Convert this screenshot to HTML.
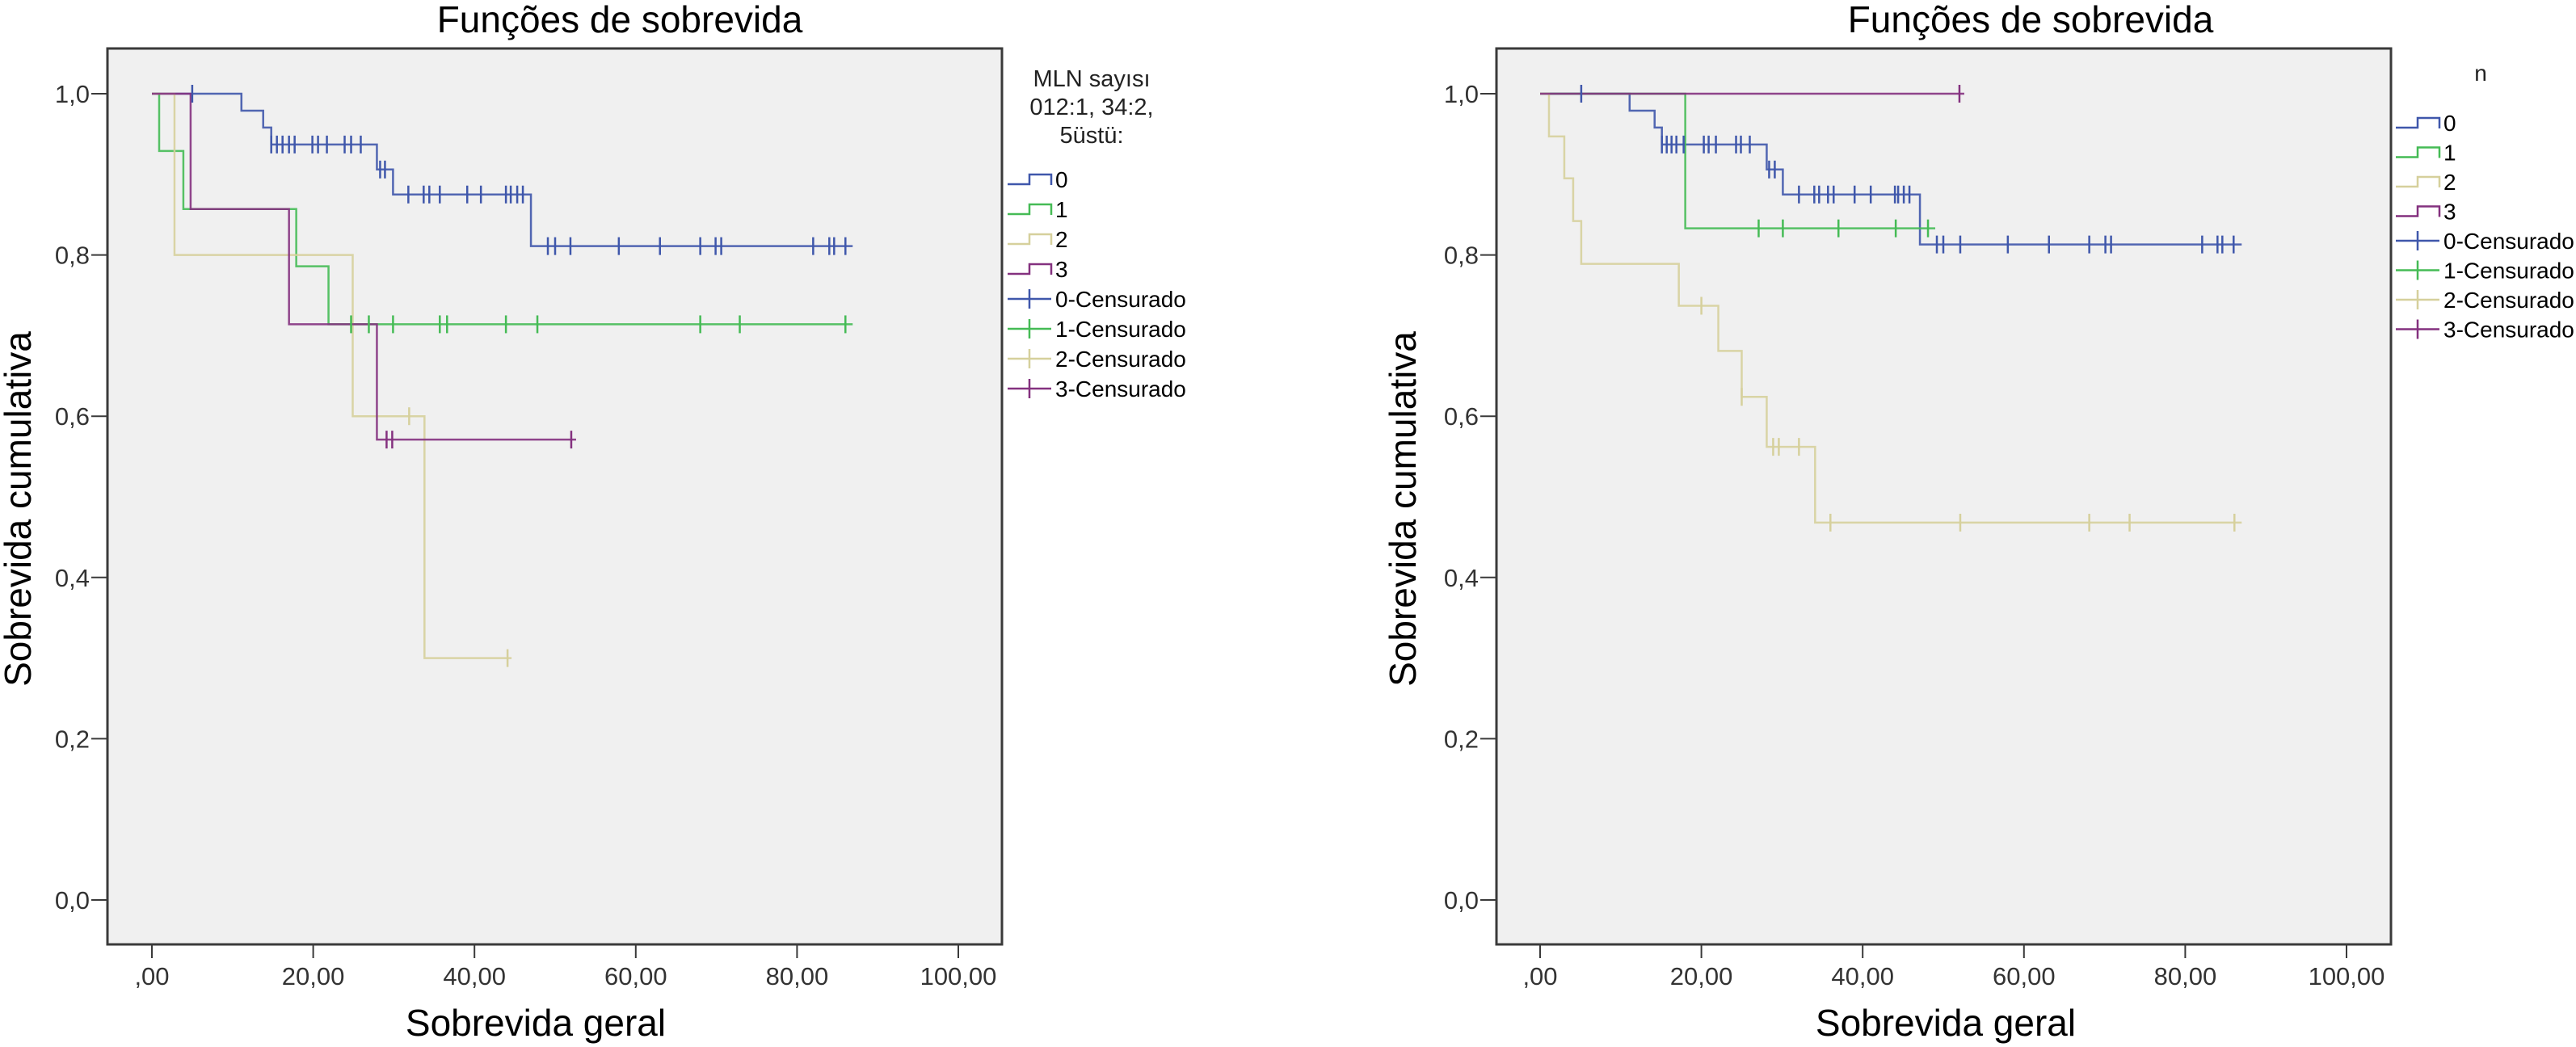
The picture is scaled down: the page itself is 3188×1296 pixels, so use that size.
<!DOCTYPE html>
<html><head><meta charset="utf-8"><style>
html,body{margin:0;padding:0;background:#fff;}
svg{display:block;font-family:"Liberation Sans",sans-serif;}
</style></head><body>
<svg id="root" width="3188" height="1296" viewBox="0 0 3188 1296" xmlns="http://www.w3.org/2000/svg"></svg>
<script>
// ---------- data ----------
const xTickValues = [0, 20, 40, 60, 80, 100];
const xTickLabels = [",00", "20,00", "40,00", "60,00", "80,00", "100,00"];
const yTickValues = [0, 0.2, 0.4, 0.6, 0.8, 1.0];
const yTickLabels = ["0,0", "0,2", "0,4", "0,6", "0,8", "1,0"];
const groupNames = ["0", "1", "2", "3"];

// Left chart
const L0_stepT = [11.1, 13.8, 14.8, 27.9, 29.9, 47.0];
const L0_stepS = [0.979, 0.958, 0.937, 0.906, 0.875, 0.811];
const L0_censT = [5.0, 14.8, 15.5, 16.2, 17.0, 17.7, 19.9, 20.6, 21.7, 23.9, 24.7, 25.9, 28.3, 28.9, 31.8, 33.7, 34.4, 35.7, 39.1, 40.8, 43.9, 44.5, 45.3, 46.0, 49.1, 50.0, 51.9, 57.9, 63.0, 68.0, 69.9, 70.6, 82.0, 84.0, 84.6, 86.0];
const L0_censS = [1.0, 0.937, 0.937, 0.937, 0.937, 0.937, 0.937, 0.937, 0.937, 0.937, 0.937, 0.937, 0.906, 0.906, 0.875, 0.875, 0.875, 0.875, 0.875, 0.875, 0.875, 0.875, 0.875, 0.875, 0.811, 0.811, 0.811, 0.811, 0.811, 0.811, 0.811, 0.811, 0.811, 0.811, 0.811, 0.811];
const L0_end = 86.9;
const L1_stepT = [0.9, 3.9, 17.9, 21.9];
const L1_stepS = [0.929, 0.857, 0.786, 0.714];
const L1_censT = [24.7, 26.9, 29.9, 35.7, 36.6, 43.9, 47.8, 68.0, 72.9, 86.0];
const L1_censS = [0.714, 0.714, 0.714, 0.714, 0.714, 0.714, 0.714, 0.714, 0.714, 0.714];
const L1_end = 86.9;
const L2_stepT = [2.8, 24.9, 33.8];
const L2_stepS = [0.8, 0.6, 0.3];
const L2_censT = [31.9, 44.1];
const L2_censS = [0.6, 0.3];
const L2_end = 44.6;
const L3_stepT = [4.8, 17.0, 27.9];
const L3_stepS = [0.857, 0.714, 0.571];
const L3_censT = [29.1, 29.8, 52.0];
const L3_censS = [0.571, 0.571, 0.571];
const L3_end = 52.6;

// Right chart
const R0_stepT = [11.1, 14.2, 15.1, 28.1, 30.1, 47.1];
const R0_stepS = [0.979, 0.958, 0.937, 0.906, 0.875, 0.813];
const R0_censT = [5.1, 15.1, 15.7, 16.3, 16.9, 17.8, 20.3, 20.9, 21.8, 24.3, 24.9, 26.0, 28.4, 29.1, 32.1, 34.0, 34.6, 35.7, 36.4, 39.0, 41.0, 44.0, 44.4, 45.1, 45.8, 49.2, 50.0, 52.1, 58.0, 63.1, 68.1, 70.1, 70.8, 82.1, 84.0, 84.6, 86.0];
const R0_censS = [1.0, 0.937, 0.937, 0.937, 0.937, 0.937, 0.937, 0.937, 0.937, 0.937, 0.937, 0.937, 0.906, 0.906, 0.875, 0.875, 0.875, 0.875, 0.875, 0.875, 0.875, 0.875, 0.875, 0.875, 0.875, 0.813, 0.813, 0.813, 0.813, 0.813, 0.813, 0.813, 0.813, 0.813, 0.813, 0.813, 0.813];
const R0_end = 87.0;
const R1_stepT = [18.0];
const R1_stepS = [0.833];
const R1_censT = [27.1, 30.1, 37.0, 44.1, 48.1];
const R1_censS = [0.833, 0.833, 0.833, 0.833, 0.833];
const R1_end = 49.0;
const R2_stepT = [1.1, 3.0, 4.1, 5.1, 17.2, 22.1, 25.0, 28.1, 34.1];
const R2_stepS = [0.947, 0.895, 0.842, 0.789, 0.737, 0.681, 0.624, 0.562, 0.468];
const R2_censT = [20.0, 25.0, 28.9, 29.6, 32.1, 36.0, 52.1, 68.1, 73.1, 86.1];
const R2_censS = [0.737, 0.624, 0.562, 0.562, 0.562, 0.468, 0.468, 0.468, 0.468, 0.468];
const R2_end = 87.0;
const R3_stepT = [];
const R3_stepS = [];
const R3_censT = [52.0];
const R3_censS = [1.0];
const R3_end = 52.6;

const colors = ["#3f57ab", "#45bb55", "#d6d09c", "#84317f"];

// ---------- drawing ----------
const NS = "http://www.w3.org/2000/svg";
const root = document.getElementById("root");
function mk(tag, attrs, parent) {
  const e = document.createElementNS(NS, tag);
  for (const k in attrs) e.setAttribute(k, attrs[k]);
  (parent || root).appendChild(e);
  return e;
}

function drawChart(cfg, groups) {
  const g = mk("g", {});
  
  
  const xs = t => cfg.x0 + t * (cfg.x100 - cfg.x0) / 100;
  const ys = s => cfg.y0 + s * (cfg.y1 - cfg.y0);

  const frame = mk("rect", {x: cfg.fl, y: cfg.ft, width: cfg.fr - cfg.fl, height: cfg.fb - cfg.ft, fill: "#f0f0f0", stroke: "#3a3a3a", "stroke-width": 3}, g);
  
  

  yTickValues.forEach((v, i) => {
    const y = ys(v);
    const tk = mk("line", {x1: cfg.fl - 20, x2: cfg.fl, y1: y, y2: y, stroke: "#3a3a3a", "stroke-width": 2}, g);
    
    
    const t = mk("text", {x: cfg.fl - 22, y: y + 11, "text-anchor": "end", "font-size": 31, fill: "#333"}, g);
    t.textContent = yTickLabels[i];
    
    
  });
  xTickValues.forEach((v, i) => {
    const x = xs(v);
    const tk = mk("line", {x1: x, x2: x, y1: cfg.fb, y2: cfg.fb + 17, stroke: "#3a3a3a", "stroke-width": 2}, g);
    
    
    const t = mk("text", {x: x, y: cfg.fb + 50, "text-anchor": "middle", "font-size": 31, fill: "#333"}, g);
    t.textContent = xTickLabels[i];
    
    
  });

  const title = mk("text", {x: cfg.titleX, y: 40, "text-anchor": "middle", "font-size": 46, fill: "#000"}, g);
  title.textContent = "Funções de sobrevida";
  
  
  const xl = mk("text", {x: cfg.xLabelX, y: 1282, "text-anchor": "middle", "font-size": 46, fill: "#000"}, g);
  xl.textContent = "Sobrevida geral";
  
  
  const yl = mk("text", {x: 0, y: 0, "text-anchor": "middle", "font-size": 46, fill: "#000", transform: `translate(${cfg.yLabelX},630) rotate(-90)`}, g);
  yl.textContent = "Sobrevida cumulativa";
  
  

  groups.forEach((gr, gi) => {
    let d = `M${xs(0)},${ys(1)}`;
    gr.stepT.forEach((t, i) => { d += ` H${xs(t)} V${ys(gr.stepS[i])}`; });
    d += ` H${xs(gr.end)}`;
    const p = mk("path", {d: d, fill: "none", stroke: colors[gi], "stroke-width": 2.5, opacity: 0.9}, g);
    
    
  });
  groups.forEach((gr, gi) => {
    gr.censT.forEach((t, i) => {
      const x = xs(t), y = ys(gr.censS[i]);
      const c = mk("line", {x1: x, x2: x, y1: y - 11, y2: y + 11, stroke: colors[gi], "stroke-width": 2.5}, g);
      
      
    });
  });

  // legend
  const lg = mk("g", {}, g);
  
  
  cfg.legendTitle.forEach((line, i) => {
    const t = mk("text", {x: cfg.legTitleX, y: cfg.legTitleY + i * cfg.legTitleDy, "text-anchor": "middle", "font-size": cfg.legTitleFont, fill: "#222"}, lg);
    t.textContent = line;
    
    
  });
  const labels = ["0", "1", "2", "3", "0-Censurado", "1-Censurado", "2-Censurado", "3-Censurado"];
  labels.forEach((lab, i) => {
    const cy = cfg.legY0 + i * cfg.legDy;
    const col = colors[i % 4];
    const sx = cfg.legX, w = cfg.legW, h = w / 2;
    let sym;
    if (i < 4) {
      sym = mk("path", {d: `M${sx},${cy + 6} H${sx + h} V${cy - 6} H${sx + w} V${cy + 7}`, fill: "none", stroke: col, "stroke-width": 2.5}, lg);
    } else {
      sym = mk("path", {d: `M${sx},${cy} H${sx + w} M${sx + h},${cy - 12} V${cy + 12}`, fill: "none", stroke: col, "stroke-width": 2.5}, lg);
    }
    
    
    const t = mk("text", {x: sx + w + 5, y: cy + cfg.legFont * 0.36, "font-size": cfg.legFont, fill: "#000"}, lg);
    t.textContent = lab;
    
    
  });
}

function grp(stepT, stepS, censT, censS, end) { return {stepT, stepS, censT, censS, end}; }

drawChart({name: "left-chart", fl: 133, ft: 60, fr: 1240, fb: 1169, x0: 188, x100: 1186, y0: 1114, y1: 116,
  titleX: 767, xLabelX: 663, yLabelX: 38, legendTitle: ["MLN sayısı", "012:1, 34:2,", "5üstü:"],
  legTitleX: 1351, legTitleY: 107, legTitleDy: 35, legTitleFont: 29, legFont: 28, legX: 1247, legW: 54, legY0: 222, legDy: 37},
  [grp(L0_stepT, L0_stepS, L0_censT, L0_censS, L0_end), grp(L1_stepT, L1_stepS, L1_censT, L1_censS, L1_end),
   grp(L2_stepT, L2_stepS, L2_censT, L2_censS, L2_end), grp(L3_stepT, L3_stepS, L3_censT, L3_censS, L3_end)]);

drawChart({name: "right-chart", fl: 1852, ft: 60, fr: 2959, fb: 1169, x0: 1906, x100: 2904, y0: 1114, y1: 116,
  titleX: 2513, xLabelX: 2408, yLabelX: 1752, legendTitle: ["n"],
  legTitleX: 3070, legTitleY: 100, legTitleDy: 36, legTitleFont: 28, legFont: 28, legX: 2965, legW: 54, legY0: 152, legDy: 36.5},
  [grp(R0_stepT, R0_stepS, R0_censT, R0_censS, R0_end), grp(R1_stepT, R1_stepS, R1_censT, R1_censS, R1_end),
   grp(R2_stepT, R2_stepS, R2_censT, R2_censS, R2_end), grp(R3_stepT, R3_stepS, R3_censT, R3_censS, R3_end)]);
</script>
</body></html>
